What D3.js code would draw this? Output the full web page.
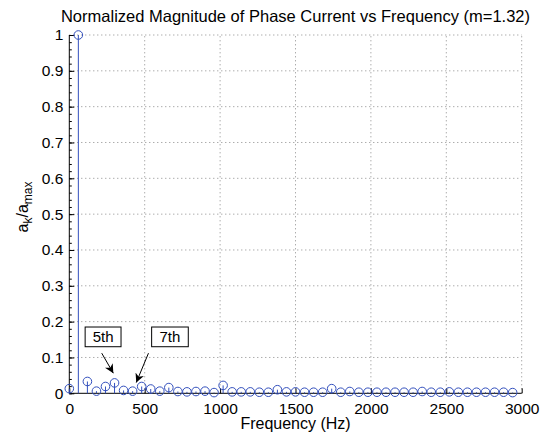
<!DOCTYPE html>
<html><head><meta charset="utf-8">
<script src="https://cdn.jsdelivr.net/npm/d3@7"></script>
<style>
html,body{margin:0;padding:0;background:#fff;}
svg text{font-family:"Liberation Sans",Arial,Helvetica,sans-serif;fill:#000;}
</style></head>
<body><svg id="c" width="548" height="434"></svg>
<script>
const frequencies = d3.range(0, 3000, 60);
const magnitudes = [0.013,1.0,0.033,0.006,0.019,0.029,0.008,0.006,0.019,0.012,
  0.006,0.016,0.005,0.004,0.005,0.006,0.002,0.022,0.004,0.004,
  0.004,0.003,0.003,0.010,0.004,0.004,0.003,0.003,0.003,0.013,
  0.003,0.005,0.003,0.003,0.003,0.003,0.003,0.003,0.003,0.005,
  0.003,0.003,0.004,0.003,0.003,0.003,0.003,0.003,0.003,0.002];
const xTicks = [0,500,1000,1500,2000,2500,3000];
const yTicks = [0,0.1,0.2,0.3,0.4,0.5,0.6,0.7,0.8,0.9,1];
const annotLabels = ["5th","7th"];
const annotBoxes = [[105,343],[546,789]];      // box x-range (Hz)
const annotBoxY = [0.185,0.13];                  // box y-range (value)
const annotArrows = [[215,0.112,292,0.056],[525,0.112,444,0.030]];

const svg = d3.select("#c");
const L=69.3, R=521.7, T=35, B=393.3;
const x = d3.scaleLinear().domain([0,3000]).range([L,R]);
const y = d3.scaleLinear().domain([0,1]).range([B,T]);
const blue = "#3350bd";
const FONT = "Liberation Sans, Arial, sans-serif";

// grid
const g = svg.append("g");
g.selectAll(".gx").data(xTicks.slice(1)).join("line")
  .attr("x1",d=>x(d)).attr("x2",d=>x(d)).attr("y1",B).attr("y2",T)
  .attr("stroke","#8a8a8a").attr("stroke-width",1).attr("stroke-dasharray","1,3");
g.selectAll(".gy").data(yTicks.slice(1)).join("line")
  .attr("x1",L).attr("x2",R).attr("y1",d=>y(d)).attr("y2",d=>y(d))
  .attr("stroke","#8a8a8a").attr("stroke-width",1).attr("stroke-dasharray","1,3");

// axes
const xAxis = d3.axisBottom(x).tickValues(xTicks).tickSize(-5).tickPadding(10).tickFormat(d3.format("d"));
const ax = svg.append("g").attr("transform",`translate(0,${B})`).call(xAxis);
ax.select(".domain").attr("d",`M${L},0H${R}`).attr("stroke","#000");
ax.selectAll("text").attr("font-size",15.5).attr("font-family",FONT).attr("dy","0.71em");

const yMinor = d3.range(0,1.001,0.02);
svg.append("g").attr("transform",`translate(${L},0)`)
  .call(d3.axisLeft(y).tickValues(yMinor).tickSize(-2.5).tickFormat(""))
  .call(s=>s.select(".domain").remove());
const yAxis = d3.axisLeft(y).tickValues(yTicks).tickSize(-5).tickPadding(6).tickFormat(d=>d===0||d===1?d3.format("d")(d):d3.format(".1f")(d));
const ay = svg.append("g").attr("transform",`translate(${L},0)`).call(yAxis);
ay.select(".domain").attr("d",`M0,${B}V${T}`).attr("stroke","#000");
ay.selectAll("text").attr("font-size",15.5).attr("font-family",FONT);

// stems
const data = frequencies.map((f,i)=>({f, v:magnitudes[i]}));
svg.append("g").selectAll("line").data(data).join("line")
  .attr("x1",d=>x(d.f)).attr("x2",d=>x(d.f)).attr("y1",y(0)).attr("y2",d=>y(d.v))
  .attr("stroke",blue).attr("stroke-width",1);
svg.append("g").selectAll("circle").data(data).join("circle")
  .attr("cx",d=>x(d.f)).attr("cy",d=>y(d.v)).attr("r",4.3)
  .attr("fill","none").attr("stroke",blue).attr("stroke-width",1);

// annotations
svg.append("defs").append("marker").attr("id","ah").attr("viewBox","0 0 10 10")
  .attr("refX",10).attr("refY",5).attr("markerWidth",9).attr("markerHeight",9)
  .attr("markerUnits","userSpaceOnUse").attr("orient","auto")
  .append("path").attr("d","M0,0L10,5L0,10L3,5Z").attr("fill","#000");
annotLabels.forEach((lab,i)=>{
  const [a,b]=annotBoxes[i];
  svg.append("rect").attr("x",x(a)).attr("y",y(annotBoxY[0]))
    .attr("width",x(b)-x(a)).attr("height",y(annotBoxY[1])-y(annotBoxY[0]))
    .attr("fill","#fff").attr("stroke","#000").attr("stroke-width",1);
  svg.append("text").attr("x",(x(a)+x(b))/2).attr("y",(y(annotBoxY[0])+y(annotBoxY[1]))/2)
    .attr("dy","0.36em").attr("text-anchor","middle").attr("font-size",15).text(lab);
  const [f1,v1,f2,v2]=annotArrows[i];
  svg.append("line").attr("x1",x(f1)).attr("y1",y(v1)).attr("x2",x(f2)).attr("y2",y(v2))
    .attr("stroke","#000").attr("stroke-width",1).attr("marker-end","url(#ah)");
});

// titles
svg.append("text").attr("x",(L+R)/2).attr("y",22).attr("text-anchor","middle")
  .attr("font-size",16.5).text("Normalized Magnitude of Phase Current vs Frequency (m=1.32)");
svg.append("text").attr("x",(L+R)/2).attr("y",428.5).attr("text-anchor","middle")
  .attr("font-size",16).text("Frequency (Hz)");
const yl = svg.append("text").attr("transform","translate(28,207) rotate(-90)")
  .attr("text-anchor","middle").attr("font-size",16);
yl.append("tspan").text("a");
yl.append("tspan").attr("font-size",12).attr("dy",4).text("k");
yl.append("tspan").attr("dy",-4).text("/a");
yl.append("tspan").attr("font-size",12).attr("dy",4).text("max");
</script></body></html>
